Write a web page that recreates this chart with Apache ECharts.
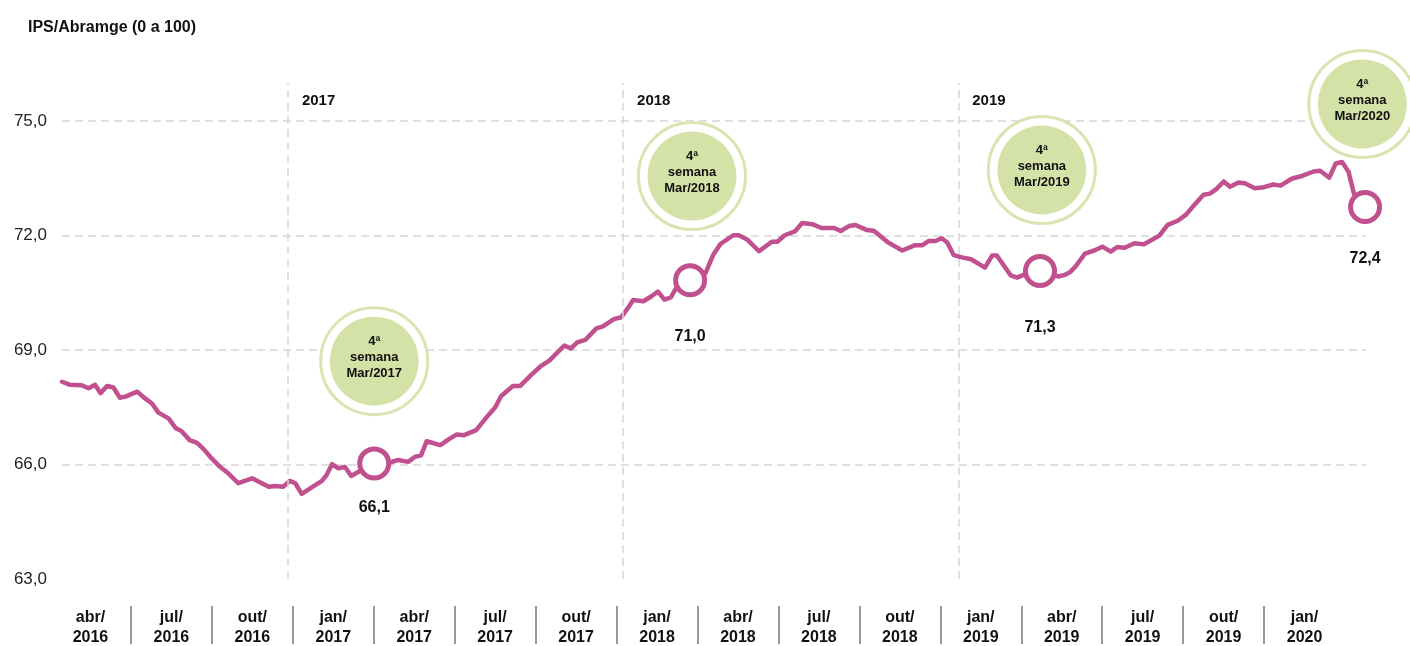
<!DOCTYPE html>
<html>
<head>
<meta charset="utf-8">
<script src="https://cdn.jsdelivr.net/npm/echarts@6/dist/echarts.min.js"></script>
<style>
  html, body { margin: 0; padding: 0; background: #fff; }
  #chart { width: 1410px; height: 646px; }
</style>
</head>
<body>
<div id="chart"></div>
<script>
// days counted from 30/04/2016, weekly IPS index
var days = [0,9,21,29,36,42,49,56,63,69,
    82,89,98,105,116,124,130,139,147,154,
    163,172,181,192,207,225,232,241,248,254,
    261,272,283,288,294,301,308,315,323,340,
    358,366,377,384,391,397,412,421,430,438,
    451,462,472,478,491,499,511,521,531,547,
    554,561,570,582,589,601,609,617,622,633,
    642,649,656,663,670,684,701,709,717,731,
    737,746,759,773,779,787,798,806,817,827,
    841,848,857,864,876,884,899,915,929,937,
    944,951,958,964,971,980,990,1005,1013,1018,
    1033,1040,1047,1065,1085,1092,1098,1104,1114,1124,
    1133,1142,1149,1157,1168,1178,1186,1195,1204,1215,
    1224,1233,1243,1250,1257,1265,1272,1281,1288,1299,
    1309,1319,1327,1339,1351,1363,1370,1380,1387,1394,
    1401,1407,1419];
var ips = [68.17,68.09,68.08,68.00,68.09,67.87,68.06,68.02,67.75,67.78,
    67.91,67.76,67.60,67.36,67.21,66.95,66.88,66.64,66.57,66.41,
    66.16,65.94,65.77,65.51,65.64,65.42,65.44,65.42,65.57,65.51,
    65.23,65.40,65.57,65.72,66.01,65.90,65.94,65.70,65.81,66.03,
    66.06,66.12,66.07,66.20,66.24,66.61,66.51,66.66,66.79,66.77,
    66.90,67.23,67.51,67.79,68.06,68.06,68.35,68.57,68.73,69.12,
    69.04,69.20,69.27,69.57,69.62,69.81,69.86,70.13,70.31,70.28,
    70.41,70.53,70.32,70.38,70.68,70.83,71.03,71.49,71.78,72.01,
    72.01,71.90,71.59,71.84,71.84,72.01,72.11,72.33,72.30,72.20,
    72.20,72.12,72.25,72.28,72.15,72.13,71.83,71.61,71.75,71.75,
    71.86,71.86,71.93,71.82,71.49,71.43,71.38,71.16,71.48,71.48,
    70.96,70.90,70.97,71.07,70.93,70.97,71.05,71.20,71.53,71.61,
    71.71,71.58,71.70,71.68,71.80,71.77,71.88,72.00,72.28,72.39,
    72.55,72.80,73.07,73.10,73.22,73.42,73.28,73.39,73.37,73.24,
    73.27,73.34,73.31,73.49,73.57,73.68,73.70,73.52,73.89,73.93,
    73.67,73.09,72.75];

// 4a semana de marco de cada ano
var markerDays = [340, 684, 1065, 1419];
var markerValues = [66.03, 70.83, 71.07, 72.75];
var markerLabels = ['66,1', '71,0', '71,3', '72,4'];

var bubbleDays = [340, 686, 1067, 1416];
var bubbleValues = [68.71, 73.56, 73.72, 75.45];
var bubbleTexts = ['4ª\nsemana\nMar/2017', '4ª\nsemana\nMar/2018', '4ª\nsemana\nMar/2019', '4ª\nsemana\nMar/2020'];

var yearDays = [246, 611, 976];
var yearNames = ['2017', '2018', '2019'];
var yearLabelLevel = 75.53;

var quarters = ['abr/\n2016', 'jul/\n2016', 'out/\n2016', 'jan/\n2017',
    'abr/\n2017', 'jul/\n2017', 'out/\n2017', 'jan/\n2018',
    'abr/\n2018', 'jul/\n2018', 'out/\n2018', 'jan/\n2019',
    'abr/\n2019', 'jul/\n2019', 'out/\n2019', 'jan/\n2020'];

var lineColor = '#c1508f';
var font = '"Liberation Sans", Arial, sans-serif';
var markerLabelGap = [19, 31, 31, 27];

var myChart = echarts.init(document.getElementById('chart'), null, {renderer: 'canvas'});

var lineData = days.map(function (d, i) { return [d, ips[i]]; });

option = {
    animation: false,
    textStyle: {fontFamily: font},
    title: {
        text: 'IPS/Abramge (0 a 100)',
        left: 28,
        top: 20,
        padding: 0,
        textStyle: {fontSize: 16, fontWeight: 'bold', color: '#111', fontFamily: font}
    },
    grid: [
        {left: 62, right: 44, top: 83, bottom: 67},
        {left: 50, right: 65, top: 606, height: 40}
    ],
    xAxis: [
        {
            type: 'value',
            gridIndex: 0,
            min: 0,
            max: 1420,
            show: false
        },
        {
            type: 'category',
            gridIndex: 1,
            position: 'top',
            data: quarters,
            boundaryGap: true,
            axisLine: {show: false},
            axisTick: {show: false},
            axisLabel: {
                inside: true,
                margin: 2,
                interval: 0,
                fontSize: 16,
                fontWeight: 'bold',
                lineHeight: 20,
                color: '#111',
                fontFamily: font
            },
            splitLine: {
                show: true,
                interval: 0,
                showMinLine: false,
                showMaxLine: false,
                lineStyle: {color: '#777', width: 1.5}
            }
        }
    ],
    yAxis: [
        {
            type: 'value',
            gridIndex: 0,
            min: 63,
            max: 76,
            interval: 3,
            axisLine: {show: false},
            axisTick: {show: false},
            axisLabel: {
                margin: 15,
                fontSize: 17,
                color: '#222',
                fontFamily: font,
                showMaxLabel: false,
                formatter: function (v) { return v.toFixed(1).replace('.', ','); }
            },
            splitLine: {
                show: true,
                showMinLine: false,
                showMaxLine: false,
                lineStyle: {type: [8, 5], color: '#d6d6d6', width: 1.5}
            }
        },
        {
            type: 'value',
            gridIndex: 1,
            show: false
        }
    ],
    series: [
        {
            // anos: linhas verticais e rotulos
            name: 'anos',
            type: 'scatter',
            symbolSize: 0,
            silent: true,
            itemStyle: {opacity: 1},
            data: yearDays.map(function (d, i) { return {value: [d, yearLabelLevel], name: yearNames[i]}; }),
            label: {
                show: true,
                position: 'right',
                distance: 14,
                formatter: '{b}',
                fontSize: 15,
                fontWeight: 'bold',
                color: '#111',
                fontFamily: font
            },
            markLine: {
                silent: true,
                symbol: 'none',
                label: {show: false},
                lineStyle: {type: [8, 5], color: '#d6d6d6', width: 1.5},
                data: yearDays.map(function (d) { return {xAxis: d}; })
            }
        },
        {
            name: 'anel',
            type: 'scatter',
            symbol: 'circle',
            symbolSize: 107,
            silent: true,
            itemStyle: {color: '#fff', borderColor: '#d8e5b1', borderWidth: 3, opacity: 1},
            data: bubbleDays.map(function (d, i) { return [d, bubbleValues[i]]; })
        },
        {
            name: 'semana',
            type: 'scatter',
            symbol: 'circle',
            symbolSize: 89,
            silent: true,
            itemStyle: {color: '#d5e2a7', opacity: 1},
            label: {
                show: true,
                position: 'inside',
                offset: [0, -4],
                formatter: function (p) { return bubbleTexts[p.dataIndex]; },
                fontSize: 13,
                fontWeight: 'bold',
                lineHeight: 16,
                color: '#111',
                fontFamily: font
            },
            data: bubbleDays.map(function (d, i) { return [d, bubbleValues[i]]; })
        },
        {
            name: 'IPS',
            type: 'line',
            data: lineData,
            showSymbol: false,
            clip: false,
            lineStyle: {color: lineColor, width: 4.5, cap: 'round', join: 'round'},
            z: 3
        },
        {
            name: 'marco',
            type: 'scatter',
            symbol: 'circle',
            symbolSize: 29,
            clip: false,
            z: 4,
            itemStyle: {color: '#fff', borderColor: lineColor, borderWidth: 5, opacity: 1},
            data: markerDays.map(function (d, i) {
                return {
                    value: [d, markerValues[i]],
                    label: {distance: markerLabelGap[i]}
                };
            }),
            label: {
                show: true,
                position: 'bottom',
                formatter: function (p) { return markerLabels[p.dataIndex]; },
                fontSize: 16,
                fontWeight: 'bold',
                color: '#111',
                fontFamily: font
            }
        }
    ]
};

myChart.setOption(option);
</script>
</body>
</html>
